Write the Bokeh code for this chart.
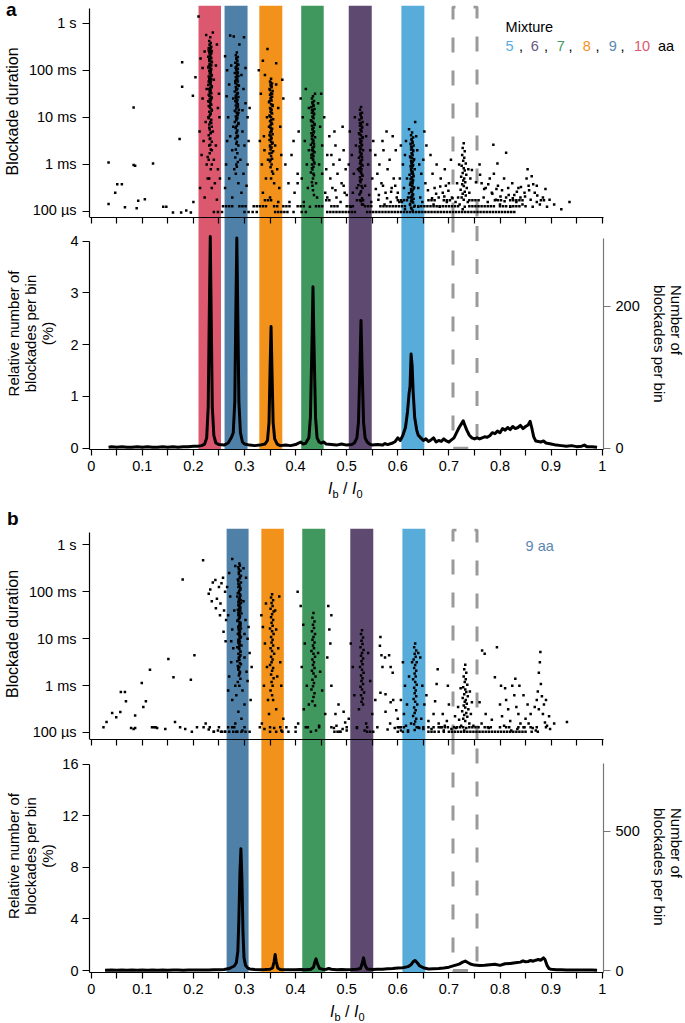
from bokeh.plotting import figure
from bokeh.layouts import column
from bokeh.models import Range1d, LinearAxis, FixedTicker, Label, BoxAnnotation, CustomJSTickFormatter, Div
from bokeh.embed import file_html
from bokeh.resources import INLINE

FONT = "Liberation Sans"

# ---------------- categories / bands ----------------
band_colors = ["#DC586E", "#4E80A8", "#F2921A", "#40985E", "#5E4A70", "#58ACDA"]
a_band_lo = [0.210, 0.261, 0.329, 0.411, 0.504, 0.607]
a_band_hi = [0.254, 0.306, 0.374, 0.455, 0.549, 0.652]
b_band_colors = ["#4E80A8", "#F2921A", "#40985E", "#5E4A70", "#58ACDA"]
b_band_lo = [0.265, 0.333, 0.413, 0.507, 0.609]
b_band_hi = [0.308, 0.377, 0.458, 0.552, 0.654]
dash_box = [0.708, 0.755]

legend_nums = ["5", "6", "7", "8", "9", "10"]
legend_cols = ["#58ACDA", "#6A5A80", "#40985E", "#F2921A", "#5A88B0", "#DC586E"]

# tick labels
dur_ticks = [0.0001, 0.001, 0.01, 0.1, 1.0]
dur_labels = ["100 \u00b5s", "1 ms", "10 ms", "100 ms", "1 s"]
x_ticks = [0, 0.1, 0.2, 0.3, 0.4, 0.5, 0.6, 0.7, 0.8, 0.9, 1.0]
x_labels = ["0", "0.1", "0.2", "0.3", "0.4", "0.5", "0.6", "0.7", "0.8", "0.9", "1"]
x_minor = [0.05, 0.15, 0.25, 0.35, 0.45, 0.55, 0.65, 0.75, 0.85, 0.95]
a_pct_ticks = [0, 1, 2, 3, 4]
a_cnt_ticks = [0, 200]
b_pct_ticks = [0, 4, 8, 12, 16]
b_cnt_ticks = [0, 500]

# ---------------- panel a scatter (x in 1/1000 Ib/I0, t = 100*log10(duration/s)) ----------------
a_left_x = [34,34,47,51,60,66,83,83,86,92,105,89,121,141,147,160,176,195,178,178,173,199,204,186,200]
a_left_t = [-296,-384,-360,-342,-342,-391,-179,-301,-303,-377,-374,-393,-298,-390,-390,-402,-402,-402,-83,-135,-246,-154,-115,-398,-380]
a10_x = [233,231,234,232,235,230,233,236,231,234,232,229,235,233,231,236,232,234,230,233,235,231,234,232,236,230,233,235,231,234,232,229,236,233,231,234,232,235,230,233,236,232,234,231,233,235,230,233,236,231,234,232,229,235,233,231,236,232,234,230,233,236,231,234,232,228]
a10_t = [-30,-38,-42,-47,-50,-53,-56,-59,-62,-65,-68,-71,-74,-77,-80,-83,-86,-89,-92,-95,-98,-101,-104,-107,-110,-113,-116,-119,-122,-125,-128,-131,-134,-137,-140,-143,-146,-149,-152,-155,-158,-161,-164,-167,-170,-173,-176,-180,-184,-188,-192,-196,-200,-205,-210,-215,-220,-226,-232,-238,-245,-252,-260,-268,-276,-284]
a10b_x = [232,234,230,235,233,231,236,232,229,234,233,235,231,230,234,236,232,233,231,235,229,234,232,236,233,230,235,231,234,232,233,236,230,234,231,233,235,232]
a10b_t = [-45,-52,-58,-64,-70,-76,-82,-88,-94,-100,-106,-112,-118,-124,-130,-136,-142,-148,-154,-160,-166,-172,-178,-186,-194,-202,-212,-222,-234,-246,-258,-270,-290,-310,-330,-120,-90,-60]
a10h_x = [214,218,222,226,240,244,248,250,224,238,244,220,216,226,240,248,252,213,236,242,228,222,246,218,246,238,225,251,212,236,210]
a10h_t = [-75,-95,-60,-140,-120,-90,-180,-150,-210,-230,-260,-250,-280,-300,-290,-310,-330,-350,-300,-340,-330,-370,-375,-160,-45,-20,-25,-200,-230,-350,14]
a9_x = [285,283,287,284,286,282,288,285,283,287,284,286,281,285,288,283,286,284,287,282,285,289,283,286,284,281,287,285,283,288,284,286,282,285,287,283,286,284,289,282,285,287,283,286,284,281,288,285,283,286,284,287,282,285,288,283,286]
a9_t = [-62,-68,-72,-76,-80,-84,-88,-91,-94,-97,-100,-103,-106,-109,-112,-115,-118,-121,-124,-127,-130,-133,-136,-139,-142,-145,-148,-151,-154,-157,-160,-163,-166,-169,-172,-175,-178,-181,-184,-187,-190,-194,-198,-202,-206,-210,-214,-218,-223,-228,-233,-239,-245,-252,-260,-268,-276]
a9b_x = [284,286,283,287,285,282,288,284,286,283,285,287,281,286,284,288,283,285,286,284,282,287,285,283,286,284,288,285]
a9b_t = [-74,-86,-95,-105,-114,-123,-132,-141,-150,-159,-168,-177,-186,-196,-204,-212,-221,-231,-242,-256,-285,-295,-305,-320,-150,-120,-190,-240]
a9h_x = [262,266,270,274,278,294,298,302,306,296,268,272,276,300,292,264,280,298,270,288,306,262,294,276,308,290,299,265,302,310,278,296,266,284,304,272,279]
a9h_t = [-70,-100,-130,-90,-160,-110,-140,-170,-200,-230,-200,-240,-270,-260,-290,-300,-310,-320,-330,-340,-300,-350,-360,-370,-250,-45,-30,-155,-95,-180,-220,-185,-250,-300,-345,-26,-28]
a8_x = [352,350,354,351,353,349,355,352,350,354,351,353,348,352,355,350,353,351,354,349,352,356,350,353,351,348,354,352,350,355,351,353,349,352,354,350,353,351,356,349,352,354,350,353,351]
a8_t = [-118,-124,-128,-132,-136,-140,-144,-148,-152,-156,-160,-164,-168,-172,-176,-180,-184,-188,-192,-196,-200,-204,-208,-212,-216,-220,-224,-228,-232,-236,-240,-244,-248,-252,-256,-260,-264,-268,-272,-277,-282,-288,-294,-300,-306]
a8b_x = [351,353,350,354,352,349,355,351,353,350,352,354,351,353,349,352,355,350,353,351,354,352]
a8b_t = [-126,-134,-142,-150,-158,-166,-174,-182,-190,-198,-206,-214,-222,-230,-238,-246,-254,-262,-275,-290,-315,-330]
a8h_x = [332,336,340,344,338,362,366,370,360,346,334,364,372,342,358,368,336,350,374,330,345,362,339,356,366,328,376]
a8h_t = [-150,-80,-110,-200,-240,-130,-180,-220,-260,-290,-300,-310,-280,-330,-340,-350,-360,-370,-120,-250,-55,-85,-270,-320,-380,-100,-160]
a7_x = [434,432,436,433,435,431,437,434,432,436,433,435,430,434,437,432,435,433,436,431,434,438,432,435,433,430,436,434,432,437,433,435,431,434,436,432,435,433,430,436,434,432]
a7_t = [-155,-160,-165,-170,-174,-178,-182,-186,-190,-194,-198,-202,-206,-210,-214,-218,-222,-226,-230,-234,-238,-242,-246,-250,-254,-258,-262,-266,-270,-274,-278,-282,-286,-290,-295,-300,-305,-311,-317,-323,-330,-338]
a7b_x = [433,435,432,436,434,431,437,433,435,432,434,436,433,435,431,434,437,432,435,433,434,436]
a7b_t = [-168,-176,-184,-192,-200,-208,-216,-224,-232,-240,-248,-256,-264,-272,-280,-288,-298,-308,-320,-345,-355,-365]
a7h_x = [410,414,418,422,426,444,448,452,456,446,412,424,440,452,458,416,442,428,450,462,406,420,404,460,438,426]
a7h_t = [-160,-200,-250,-300,-180,-170,-220,-260,-200,-300,-330,-350,-340,-320,-360,-380,-370,-390,-150,-280,-230,-140,-340,-310,-150,-270]
a76_x = [466,470,474,478,482,486,490,494,498,472,480,488,496,468,476,492]
a76_t = [-240,-280,-300,-260,-320,-290,-340,-270,-310,-350,-370,-380,-360,-330,-230,-220]
a6_x = [528,526,530,527,529,525,531,528,526,530,527,529,524,528,531,526,529,527,530,525,528,532,526,529,527,524,530,528,526,531,527,529,525,528,530,526,529,527,523,531,528,525,530]
a6_t = [-178,-184,-190,-195,-200,-205,-210,-214,-218,-222,-226,-230,-234,-238,-242,-246,-250,-254,-258,-262,-266,-270,-274,-278,-282,-286,-290,-294,-298,-302,-306,-310,-314,-318,-322,-327,-332,-338,-344,-350,-357,-364,-372]
a6b_x = [527,529,526,530,528,525,531,527,529,526,528,530,527,529,525,528,531,526,529,527,528,530]
a6b_t = [-192,-202,-212,-220,-228,-236,-244,-252,-260,-268,-276,-284,-292,-300,-308,-316,-324,-334,-346,-360,-378,-385]
a6h_x = [506,510,514,518,538,542,546,550,512,520,536,544,548,508,532,540,516,552,504,522]
a6h_t = [-230,-280,-320,-260,-240,-300,-270,-330,-360,-350,-345,-365,-380,-390,-385,-215,-200,-250,-300,-310]
a65_x = [556,560,564,568,572,576,580,584,588,592,596,562,574,586,598,570,590,578]
a65_t = [-280,-320,-300,-340,-270,-360,-310,-290,-350,-330,-270,-375,-385,-380,-370,-250,-240,-230]
a5_x = [628,626,630,627,629,625,631,628,626,630,627,629,624,628,632,626,629,627,630,625,628,633,626,629,627,623,631,628,625,630,627,629,624,628,632,626,629,627,622,630,628,625,631,627,629,624,633,626]
a5_t = [-232,-238,-243,-248,-252,-256,-260,-264,-268,-272,-276,-280,-283,-286,-289,-292,-295,-298,-301,-304,-307,-310,-313,-316,-319,-322,-325,-328,-331,-334,-337,-340,-343,-346,-349,-352,-355,-358,-361,-364,-367,-370,-373,-376,-380,-384,-388,-392]
a5b_x = [627,629,626,630,628,625,631,627,629,626,628,630,627,629,625,628,631,626,629,627,628,630,624,632,627,629,626,628]
a5b_t = [-246,-254,-262,-270,-278,-285,-291,-297,-303,-309,-315,-321,-327,-333,-339,-345,-351,-357,-363,-369,-375,-381,-386,-390,-394,-398,-378,-366]
a5h_x = [606,610,614,618,612,616,638,642,646,650,640,644,636,620,608,648,654,604,634,622,656,600,652,640,614]
a5h_t = [-260,-300,-280,-330,-350,-250,-270,-300,-320,-290,-350,-370,-240,-370,-380,-380,-340,-330,-210,-225,-260,-360,-230,-390,-395]
a5g_x = [664,668,672,676,680,684,688,692,696,700,704,670,682,694,706]
a5g_t = [-280,-320,-350,-300,-370,-330,-360,-310,-380,-340,-290,-385,-390,-345,-370]
ag_x = [729,727,731,726,730,728,733,725,729,731,727,734,724,730,728,732,726,729,735,723,731,727,733,725,729,737,721,731,727,740,718,742,716,738,720]
ag_t = [-255,-265,-272,-280,-286,-292,-298,-303,-308,-313,-318,-322,-326,-330,-334,-338,-342,-346,-350,-354,-358,-362,-366,-370,-375,-380,-385,-390,-395,-360,-370,-330,-340,-310,-300]
at_x = [760,764,768,772,776,780,784,788,792,796,800,804,808,812,816,820,824,828,832,836,840,844,848,852,856,860,864,868,872,878,884,892,906,920,936,812,795,862,872,854,787]
at_t = [-300,-340,-370,-350,-380,-330,-360,-320,-375,-345,-385,-355,-330,-370,-350,-390,-340,-365,-380,-350,-370,-385,-360,-330,-345,-375,-390,-360,-380,-385,-370,-390,-385,-395,-380,-275,-298,-325,-345,-310,-258]
a_ex_x = [380,386,392,398,404,388,396,462,478,494,500,557,563,571,579,587,595,603,659,667,675,683,691,699,707,713,745,753,761,769,777,785,793,801,809,817,825,833,841,849,857,865,873,889,897]
a_ex_t = [-300,-340,-280,-360,-320,-380,-250,-370,-355,-345,-365,-352,-365,-345,-372,-358,-345,-380,-355,-372,-362,-347,-368,-356,-372,-380,-312,-338,-322,-352,-342,-362,-352,-368,-378,-365,-372,-358,-348,-368,-355,-342,-366,-352,-375]
a_row_t = [-376, -389, -401]
a_row1_x = [340,346,352,460,466,520,526,532,600,606,612,618,660,666,672,690,696,702,740,746,752,758,790,796,802,820,826,832,838,844,880,886]
a_row2_x = [258,264,270,276,290,296,302,318,324,330,336,342,358,364,376,382,388,404,410,416,440,446,452,470,476,482,500,506,512,536,542,548,566,572,578,584,590,596,602,608,614,640,646,652,658,664,670,676,682,688,694,700,706,712,718,740,746,752,758,764,770,776,782,788,800,806,812,820,826,832,838,850]
a_row3_x = [240,248,256,300,308,316,324,360,366,372,378,384,396,412,420,462,468,474,480,486,492,498,504,510,516,540,546,552,558,564,570,576,582,588,594,600,606,612,618,624,630,636,642,648,654,660,666,672,678,684,690,696,702,708,714,720,726,732,738,744,750,756,762,768,774,780,786,792,798,804,810,816,822,828]

# ---------------- panel b scatter ----------------
b_left_x = [24,30,41,49,57,58,66,68,78,83,86,86,99,102,107,115,119,123,126,129,145,151,161,164,174,184,179,195,202,197,207,219,224,230,240,248,256,262]
b_left_t = [-388,-377,-358,-367,-356,-313,-313,-333,-390,-392,-390,-363,-294,-345,-333,-266,-388,-388,-388,-390,-392,-243,-282,-377,-388,-392,-74,-287,-235,-398,-388,-33,-380,-393,-398,-395,-398,-398]
b_ul_x = [230,233,238,243,246,250,253,255,258,260,262,264,252,244,236,259,263]
b_ul_t = [-104,-95,-80,-75,-115,-90,-125,-82,-70,-140,-100,-160,-150,-135,-120,-185,-205]
b9_x = [290,288,292,289,291,287,293,290,288,292,289,291,286,290,293,288,291,289,292,287,290,294,288,291,289,286,292,290,288,293,289,291,287,290,292,288,291,289,294,286,290,292,288,291,289,286,293,290,288,291,289,292,287,290,289,291,288,290,292,289,291,288,290,292,289,291,288,290,292,289,291,288,290]
b9_t = [-40,-48,-55,-62,-68,-74,-80,-85,-90,-95,-100,-105,-110,-114,-118,-122,-126,-130,-134,-138,-142,-146,-150,-154,-158,-162,-166,-170,-174,-178,-182,-186,-190,-194,-198,-202,-206,-210,-214,-218,-222,-227,-232,-237,-242,-248,-254,-260,-266,-272,-278,-285,-292,-300,-52,-71,-83,-97,-108,-120,-132,-144,-156,-168,-180,-192,-204,-216,-228,-240,-252,-262,-275]
b9b_x = [291,289,293,288,290,292,287,291,289,293,288,290,292,289,291,287,290,292,288,291,289,293,290,288,291,289,292,290,287,291]
b9b_t = [-44,-58,-66,-77,-88,-92,-103,-112,-116,-124,-128,-136,-140,-148,-152,-160,-164,-172,-176,-184,-188,-196,-200,-208,-212,-220,-235,-245,-258,-270]
b9h_x = [268,272,276,280,278,274,270,282,298,302,306,300,304,296,284,310,314,276,300,288,306,268,294,282,312,270,276,282,298,303,266,300,274,308,296,284,280]
b9h_t = [-150,-110,-180,-140,-220,-250,-280,-300,-120,-160,-200,-240,-270,-310,-320,-230,-260,-330,-340,-355,-290,-310,-370,-380,-330,-60,-30,-45,-50,-70,-90,-190,-205,-175,-395,-398,-388]
b8_x = [354,352,356,353,355,351,357,354,352,356,353,355,350,354,357,352,355,353,356,351,354,358,352,355,353,350,356,354,352,357,353,355,351,354,356]
b8_t = [-105,-112,-118,-124,-130,-136,-142,-148,-154,-160,-166,-172,-178,-184,-190,-196,-202,-208,-214,-220,-226,-232,-238,-244,-250,-256,-262,-268,-276,-284,-292,-300,-310,-320,-330]
b8h_x = [333,336,340,344,338,346,362,366,370,364,372,360,342,368,348,362,334,358,372,376,339]
b8h_t = [-150,-175,-210,-260,-300,-330,-180,-220,-250,-280,-300,-140,-125,-110,-360,-350,-380,-390,-395,-370,-392]
b7_x = [435,433,437,434,436,432,438,435,433,437,434,436,431,435,438,433,436,434,437,432,435,439,433,436,434,431,437,435,433,438]
b7_t = [-145,-155,-163,-170,-177,-184,-190,-196,-202,-208,-214,-220,-226,-232,-238,-244,-250,-256,-262,-268,-274,-280,-287,-294,-301,-308,-316,-324,-333,-342]
b7h_x = [404,410,415,418,412,422,426,416,444,448,452,464,466,462,470,458,446,424,440,405,470,468]
b7h_t = [-100,-130,-170,-210,-260,-300,-340,-350,-230,-270,-310,-130,-180,-240,-300,-360,-385,-388,-395,-380,-150,-210]
b76_x = [475,480,486,492,497,484,478,494,500]
b76_t = [-390,-385,-398,-392,-378,-340,-360,-355,-395]
b6_x = [530,528,532,529,531,527,533,530,528,532,529,531,526,530,533,528,531,529,532,527,530,534,528,531,529,532]
b6_t = [-182,-190,-197,-204,-211,-218,-224,-230,-236,-242,-248,-254,-260,-266,-272,-278,-284,-290,-296,-302,-308,-314,-320,-327,-334,-340]
b6h_x = [508,512,515,504,542,546,550,538,520,535,556,524]
b6h_t = [-210,-260,-320,-370,-230,-290,-360,-380,-390,-395,-330,-350]
b65_x = [566,565,568,575,583,586,570,566,576,586,591,576,585,580,594,600,603,606,597,590]
b65_t = [-196,-215,-235,-240,-235,-260,-260,-315,-318,-335,-330,-355,-380,-393,-390,-370,-388,-395,-352,-272]
b5_x = [634,632,636,633,635,631,637,634,632,636,633,635,630,634,637,632,635,633,636,631,634,638,632,635,633,630,636,634,632,637,633]
b5_t = [-210,-218,-225,-232,-238,-244,-250,-256,-262,-268,-274,-280,-286,-292,-298,-304,-310,-316,-322,-328,-334,-340,-346,-352,-358,-364,-370,-376,-382,-388,-394]
b5h_x = [610,614,618,612,622,644,648,652,646,656,606,626,642,620,650,616,640,628]
b5h_t = [-250,-300,-340,-360,-280,-240,-300,-340,-370,-320,-330,-380,-390,-395,-392,-385,-230,-250]
b5g_x = [676,673,680,684,688,692,696,700,678,698,705,690,666,660,670]
b5g_t = [-296,-333,-380,-388,-360,-385,-375,-340,-265,-300,-392,-395,-392,-375,-360]
bg_x = [732,730,734,729,733,731,736,728,732,734,730,737,727,733,731,735,729,732,738,726,734,730,736,728,732,740,724,734,730,743,720,745,718,741,723,748,714,712]
bg_t = [-255,-265,-272,-280,-286,-292,-298,-303,-308,-313,-318,-322,-326,-330,-334,-338,-342,-346,-350,-354,-358,-362,-366,-370,-375,-380,-385,-390,-395,-360,-372,-335,-345,-312,-305,-385,-390,-365]
bt_x = [765,770,794,790,760,764,772,778,784,800,804,808,812,816,820,824,828,832,836,840,822,834,846,830,838,810,802,850,856,860,864,868,872,876,879,878,876,880,874,882,886,890,884,888,892,896,898,906,931,870,854,846]
bt_t = [-225,-232,-218,-282,-335,-380,-360,-390,-372,-340,-365,-385,-330,-350,-375,-300,-320,-345,-360,-380,-395,-392,-388,-285,-300,-305,-300,-370,-380,-360,-390,-345,-330,-350,-228,-250,-272,-296,-312,-322,-340,-330,-360,-378,-385,-365,-392,-380,-377,-395,-340,-320]
b_row_t = [-388, -398]
b_row1_x = [220,232,250,268,276,300,330,350,370,382,400,420,446,470,500,520,540,560,600,606,612,640,650,660,670,680,686,692,698,710,716,722,728,740,746,752,758,770,776,782,800,812,818,836,848,860,872,890]
b_row2_x = [240,254,262,270,278,286,294,302,310,350,362,374,386,400,430,476,482,488,540,546,552,600,610,620,660,666,672,680,690,700,706,712,718,724,730,736,742,748,754,760,766,772,778,784,790,796,802,808,814,820,826,832,838,844,850,862,874]

# ---------------- histograms (% of blockades per bin) ----------------
a_hist_x = [0.034,0.04,0.05,0.06,0.07,0.08,0.09,0.10,0.11,0.12,0.13,0.14,0.15,0.16,0.17,0.18,0.19,0.20,0.21,0.216,0.222,0.226,0.229,0.231,0.233,0.235,0.237,0.240,0.244,0.25,0.26,0.268,0.274,0.278,0.281,0.283,0.285,0.287,0.289,0.292,0.296,0.30,0.31,0.32,0.33,0.34,0.345,0.348,0.350,0.352,0.354,0.356,0.359,0.364,0.37,0.38,0.39,0.40,0.41,0.415,0.42,0.426,0.429,0.432,0.434,0.436,0.439,0.442,0.446,0.45,0.455,0.46,0.47,0.48,0.49,0.50,0.51,0.515,0.52,0.523,0.526,0.528,0.530,0.533,0.536,0.54,0.545,0.55,0.56,0.57,0.575,0.58,0.59,0.595,0.60,0.605,0.61,0.615,0.619,0.622,0.624,0.626,0.628,0.630,0.633,0.637,0.64,0.645,0.65,0.655,0.66,0.665,0.67,0.675,0.68,0.685,0.69,0.695,0.70,0.705,0.71,0.715,0.72,0.725,0.728,0.731,0.735,0.74,0.745,0.75,0.755,0.76,0.765,0.77,0.775,0.78,0.785,0.79,0.795,0.80,0.805,0.81,0.815,0.82,0.825,0.83,0.835,0.84,0.845,0.85,0.855,0.859,0.862,0.866,0.87,0.875,0.88,0.885,0.89,0.90,0.91,0.92,0.93,0.94,0.95,0.96,0.965,0.97,0.98,0.99]
a_hist_p = [0.02,0.03,0.02,0.03,0.02,0.02,0.03,0.02,0.03,0.02,0.02,0.03,0.02,0.03,0.02,0.03,0.03,0.04,0.04,0.05,0.08,0.2,0.8,2.5,4.09,2.4,0.8,0.25,0.1,0.07,0.06,0.1,0.2,0.3,0.9,2.6,4.06,2.5,0.9,0.3,0.12,0.08,0.06,0.05,0.06,0.08,0.15,0.5,1.5,2.35,1.4,0.5,0.18,0.08,0.05,0.06,0.05,0.07,0.12,0.08,0.1,0.2,0.6,2.0,3.12,2.0,0.6,0.2,0.12,0.1,0.12,0.08,0.07,0.06,0.08,0.06,0.07,0.1,0.2,0.5,1.6,2.47,1.6,0.5,0.2,0.12,0.08,0.06,0.07,0.06,0.09,0.07,0.1,0.13,0.2,0.15,0.25,0.4,0.7,1.05,1.2,1.82,1.6,1.1,0.6,0.35,0.25,0.2,0.15,0.18,0.13,0.16,0.2,0.12,0.15,0.13,0.18,0.14,0.12,0.16,0.2,0.3,0.4,0.48,0.53,0.45,0.35,0.25,0.2,0.18,0.2,0.18,0.2,0.22,0.21,0.24,0.3,0.28,0.33,0.3,0.38,0.35,0.4,0.36,0.42,0.38,0.4,0.44,0.38,0.42,0.45,0.52,0.4,0.22,0.14,0.13,0.12,0.14,0.1,0.08,0.06,0.05,0.04,0.05,0.03,0.04,0.06,0.03,0.03,0.02]
b_hist_x = [0.027,0.04,0.05,0.06,0.07,0.08,0.09,0.10,0.11,0.12,0.13,0.14,0.15,0.16,0.17,0.18,0.19,0.20,0.21,0.22,0.23,0.24,0.25,0.26,0.27,0.275,0.28,0.284,0.287,0.289,0.291,0.293,0.295,0.297,0.299,0.302,0.306,0.31,0.32,0.33,0.34,0.35,0.355,0.358,0.360,0.362,0.365,0.37,0.38,0.39,0.40,0.41,0.42,0.43,0.435,0.438,0.440,0.443,0.447,0.455,0.46,0.465,0.47,0.48,0.49,0.50,0.51,0.52,0.527,0.530,0.533,0.536,0.54,0.55,0.56,0.57,0.58,0.59,0.60,0.61,0.62,0.626,0.631,0.634,0.638,0.643,0.65,0.66,0.67,0.68,0.69,0.70,0.71,0.72,0.727,0.732,0.737,0.742,0.75,0.76,0.77,0.78,0.79,0.80,0.81,0.82,0.83,0.84,0.845,0.85,0.855,0.86,0.865,0.87,0.875,0.88,0.885,0.888,0.892,0.896,0.90,0.91,0.92,0.93,0.94,0.95,0.96,0.97,0.98,0.99]
b_hist_p = [0.02,0.03,0.02,0.03,0.02,0.03,0.02,0.03,0.02,0.03,0.02,0.03,0.02,0.03,0.03,0.02,0.03,0.03,0.04,0.03,0.04,0.05,0.06,0.08,0.15,0.25,0.35,0.6,1.5,4.0,7.5,9.46,7.0,3.0,1.0,0.4,0.2,0.12,0.08,0.06,0.07,0.1,0.2,0.7,1.24,0.7,0.2,0.08,0.06,0.05,0.06,0.07,0.06,0.1,0.25,0.7,0.9,0.5,0.15,0.08,0.1,0.16,0.1,0.06,0.07,0.06,0.07,0.1,0.15,0.5,0.98,0.4,0.12,0.08,0.09,0.1,0.13,0.16,0.2,0.22,0.3,0.45,0.72,0.78,0.6,0.35,0.22,0.12,0.14,0.16,0.2,0.26,0.38,0.5,0.65,0.73,0.62,0.5,0.42,0.38,0.4,0.45,0.48,0.4,0.52,0.55,0.6,0.65,0.75,0.68,0.7,0.78,0.72,0.8,0.85,0.8,0.98,0.85,0.4,0.15,0.1,0.06,0.05,0.04,0.04,0.03,0.04,0.03,0.03,0.02]
a_cnt_per_pct = 72.9
b_cnt_per_pct = 46.2

# ---------------- layout constants ----------------
PX_PER_UNIT = 511.0
XLO = -1.7 / PX_PER_UNIT
FW = 514
BL, BR = 89, 82
DASH_COL = "#9A9A9A"

FMT_CODE = """
for (let i = 0; i < tv.length; i++) {
  const t = tv[i];
  if (Math.abs(t - tick) <= 1e-6 * Math.max(Math.abs(t), 1e-12)) return tl[i];
}
return "";
"""


def fmt(ticks, labels):
    return CustomJSTickFormatter(args=dict(tv=list(ticks), tl=list(labels)), code=FMT_CODE)


def style_axis(ax, color="black", tick=7):
    ax.axis_line_color = color
    ax.axis_line_width = 1.2
    ax.major_tick_line_color = color
    ax.major_tick_line_width = 1.2
    ax.minor_tick_line_color = color
    ax.minor_tick_line_width = 1.2
    ax.major_tick_in = 0
    ax.minor_tick_in = 0
    ax.major_tick_out = tick
    ax.minor_tick_out = 0
    ax.major_label_text_font = FONT
    ax.major_label_text_font_size = "14.5px"
    ax.major_label_text_color = "black"
    ax.axis_label_text_font = FONT
    ax.axis_label_text_font_size = "15px"
    ax.axis_label_text_font_style = "normal"
    ax.axis_label_text_color = "black"
    ax.axis_label_text_line_height = 1.0


def text(p, x, y, s, color="black", size="14.5px", style="normal", baseline="alphabetic", align="left"):
    p.add_layout(Label(x=x, y=y, text=s, text_color=color, text_font=FONT, text_font_size=size,
                       text_font_style=style, text_baseline=baseline, text_align=align))


def make_scatter(ylo_e, yhi_e, axis_top_e, frame_w, right_border, frame_h, top_border,
                 blo, bhi, bcol, groups, rows, row_t, box_top_e):
    ylo, yhi = 10 ** ylo_e, 10 ** yhi_e
    p = figure(frame_width=frame_w, frame_height=frame_h,
               x_range=Range1d(XLO, XLO + frame_w / PX_PER_UNIT), y_range=Range1d(ylo, yhi),
               y_axis_type="log", x_axis_location=None, output_backend="svg", toolbar_location=None,
               min_border_left=BL, min_border_right=right_border, min_border_top=top_border, min_border_bottom=0)
    p.outline_line_color = None
    p.grid.visible = False
    for lo, hi, c in zip(blo, bhi, bcol):
        p.add_layout(BoxAnnotation(left=lo, right=hi, fill_color=c, fill_alpha=1.0, line_color=None, level="underlay"))
    bt = 10 ** box_top_e
    p.line([dash_box[0], dash_box[0], dash_box[1], dash_box[1]], [ylo, bt, bt, ylo],
           line_dash="15 18", line_color=DASH_COL, line_width=3)
    xs, ts = [], []
    for gx, gt in groups:
        for a, b in zip(gx, gt):
            xs.append(a / 1000.0)
            ts.append(10 ** (b / 100.0))
    for rx, rt in zip(rows, row_t):
        for a in rx:
            xs.append(a / 1000.0)
            ts.append(10 ** (rt / 100.0))
    p.scatter(xs, ts, marker="square", size=2.5, fill_color="black", line_color=None)
    ax = p.yaxis[0]
    style_axis(ax)
    ax.ticker = FixedTicker(ticks=dur_ticks, minor_ticks=[])
    ax.formatter = fmt(dur_ticks, dur_labels)
    ax.major_label_standoff = 6
    ax.axis_label = "Blockade duration"
    ax.axis_label_text_font_size = "16px"
    ax.axis_label_standoff = 5
    ax.bounds = (ylo, 10 ** axis_top_e)
    return p


def make_hist(hx, hp, ylo, yhi, cpp, pct_ticks, pct_top, cnt_ticks, cnt_top, frame_h, bottom_border,
              blo, bhi, bcol, left_std):
    p = figure(frame_width=FW, frame_height=frame_h, x_range=Range1d(XLO, XLO + FW / PX_PER_UNIT),
               y_range=Range1d(ylo, yhi), output_backend="svg", toolbar_location=None,
               min_border_left=BL, min_border_right=BR, min_border_top=0, min_border_bottom=bottom_border)
    p.outline_line_color = None
    p.grid.visible = False
    p.extra_y_ranges = {"cnt": Range1d(ylo * cpp, yhi * cpp)}
    for lo, hi, c in zip(blo, bhi, bcol):
        p.add_layout(BoxAnnotation(left=lo, right=hi, fill_color=c, fill_alpha=1.0, line_color=None, level="underlay"))
    p.line([dash_box[0], dash_box[0], dash_box[1], dash_box[1]], [yhi, 0, 0, yhi],
           line_dash="15 18", line_color=DASH_COL, line_width=3)
    p.line(hx, hp, line_width=3, line_color="black", line_join="round")
    # left axis
    ax = p.yaxis[0]
    style_axis(ax)
    ax.ticker = FixedTicker(ticks=pct_ticks, minor_ticks=[])
    ax.major_label_standoff = 4
    ax.axis_label = "Relative number of\nblockades per bin\n(%)"
    ax.axis_label_standoff = left_std
    ax.bounds = (ylo, pct_top)
    # right axis (its title is placed as rotated HTML text, see below)
    r = LinearAxis(y_range_name="cnt", ticker=FixedTicker(ticks=cnt_ticks, minor_ticks=[]))
    style_axis(r, color="#777777")
    r.major_label_standoff = 5
    r.bounds = (ylo * cpp, cnt_top)
    p.add_layout(r, "right")
    # bottom axis
    bx = p.xaxis[0]
    style_axis(bx, tick=6)
    bx.ticker = FixedTicker(ticks=x_ticks, minor_ticks=x_minor)
    bx.formatter = fmt(x_ticks, x_labels)
    bx.minor_tick_out = 6
    bx.major_label_standoff = 5
    # top axis = x axis of the scatter above (ticks pointing down, no labels)
    tx = LinearAxis(ticker=FixedTicker(ticks=x_ticks, minor_ticks=x_minor))
    style_axis(tx, tick=0)
    tx.major_tick_in = 6
    tx.minor_tick_in = 6
    tx.major_label_text_font_size = "0px"
    tx.major_label_text_color = None
    tx.major_label_standoff = 0
    p.add_layout(tx, "above")
    return p


SUB = "font-size:11px;position:relative;top:4px"
XLABEL = ('<span style="font-style:italic">I</span><span style="%s">b</span> / '
          '<span style="font-style:italic">I</span><span style="%s">0</span>') % (SUB, SUB)
BASE = "font-family:'Liberation Sans',Arial,sans-serif;color:black;white-space:nowrap;margin:0;padding:0"


def overlay(html, left, top, w, h):
    return Div(width=w, height=h, margin=0, text=html,
               styles={"position": "absolute", "left": "%dpx" % left, "top": "%dpx" % top, "z-index": "10"})


def right_title(top):
    html = ('<div style="%s;font-size:15px;line-height:17px;text-align:left;width:130px;'
            'transform:rotate(90deg);transform-origin:0 0;position:absolute;left:0;top:0">'
            'Number of<br>blockades per bin</div>') % BASE
    return overlay(html, 685, top, 1, 1)


# ---------------- panel a ----------------
a_groups = [(a_left_x, a_left_t), (a10_x, a10_t), (a10b_x, a10b_t), (a10h_x, a10h_t),
            (a9_x, a9_t), (a9b_x, a9b_t), (a9h_x, a9h_t),
            (a8_x, a8_t), (a8b_x, a8b_t), (a8h_x, a8h_t), (a7_x, a7_t), (a7b_x, a7b_t), (a7h_x, a7h_t),
            (a76_x, a76_t), (a6_x, a6_t), (a6b_x, a6b_t), (a6h_x, a6h_t), (a65_x, a65_t),
            (a5_x, a5_t), (a5b_x, a5b_t), (a5h_x, a5h_t),
            (a5g_x, a5g_t), (ag_x, ag_t), (at_x, at_t), (a_ex_x, a_ex_t)]
sa = make_scatter(-4.127, 0.376, 0.312, 685 - BL, 0, 212, 5, a_band_lo, a_band_hi, band_colors,
                  a_groups, [a_row1_x, a_row2_x, a_row3_x], a_row_t, 0.344)
text(sa, 0.811, 10 ** -0.091, "Mixture")
num_x = [0.811, 0.860, 0.911, 0.962, 1.013, 1.062]
comma_x = [0.837, 0.886, 0.934, 0.987, 1.036]
for s, c, x in zip(legend_nums, legend_cols, num_x):
    text(sa, x, 10 ** -0.474, s, color=c)
for x in comma_x:
    text(sa, x, 10 ** -0.474, ",")
text(sa, 1.109, 10 ** -0.474, "aa")

ha = make_hist(a_hist_x, a_hist_p, -0.025, 4.458, a_cnt_per_pct, a_pct_ticks, 4.0, a_cnt_ticks, 296,
               232, 30, a_band_lo, a_band_hi, band_colors, 11)

gap_div = Div(width=685, height=49, margin=0, text=(
    '<div style="position:relative;width:685px;height:49px;%s">'
    '<div style="position:absolute;left:328px;top:1px;font-size:16px;line-height:18px">%s</div>'
    '<div style="position:absolute;left:7px;top:30px;font-size:19px;font-weight:bold;line-height:19px">b</div>'
    '</div>') % (BASE, XLABEL))

panel_a_label = overlay('<div style="%s;font-size:19px;font-weight:bold;line-height:19px">a</div>' % BASE,
                        6, 0, 20, 20)

# ---------------- panel b ----------------
b_groups = [(b_left_x, b_left_t), (b_ul_x, b_ul_t), (b9_x, b9_t), (b9b_x, b9b_t), (b9h_x, b9h_t),
            (b8_x, b8_t), (b8h_x, b8h_t),
            (b7_x, b7_t), (b7h_x, b7h_t), (b76_x, b76_t), (b6_x, b6_t), (b6h_x, b6h_t), (b65_x, b65_t),
            (b5_x, b5_t), (b5h_x, b5h_t), (b5g_x, b5g_t), (bg_x, bg_t), (bt_x, bt_t)]
sb = make_scatter(-4.1426, 0.3468, 0.268, FW, BR, 211, 0, b_band_lo, b_band_hi, b_band_colors,
                  b_groups, [b_row1_x, b_row2_x], b_row_t, 0.315)
text(sb, 0.850, 10 ** -0.015, "9 aa", color="#5A88B0")

hb = make_hist(b_hist_x, b_hist_p, -0.155, 17.94, b_cnt_per_pct, b_pct_ticks, 16, b_cnt_ticks, 744,
               233, 30, b_band_lo, b_band_hi, b_band_colors, 3)

end_div = Div(width=685, height=21, margin=0, text=(
    '<div style="position:relative;width:685px;height:21px;%s">'
    '<div style="position:absolute;left:330px;top:1px;font-size:16px;line-height:18px">%s</div>'
    '</div>') % (BASE, XLABEL))

layout = column(panel_a_label, right_title(285), right_title(808),
                sa, ha, gap_div, sb, hb, end_div, spacing=0)
open("out.html", "w").write(file_html(layout, INLINE))
